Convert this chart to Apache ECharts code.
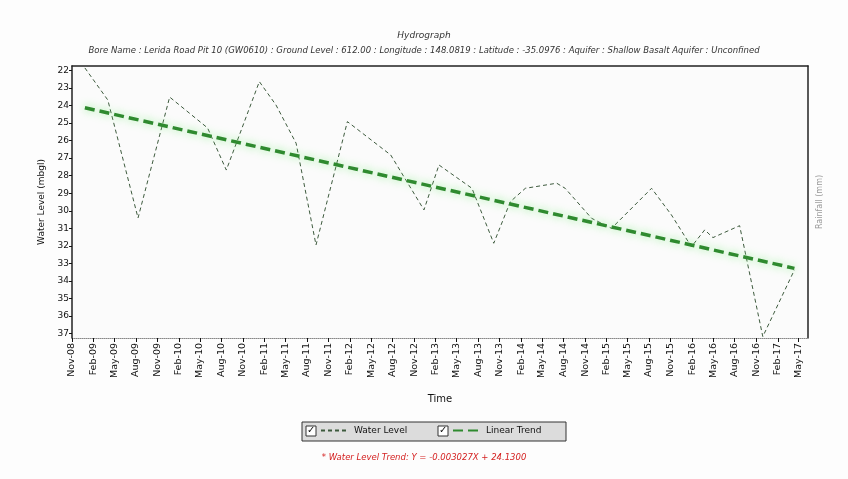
<!DOCTYPE html>
<html>
<head>
<meta charset="utf-8">
<script src="https://cdn.jsdelivr.net/npm/echarts@6/dist/echarts.min.js"></script>
<style>html,body{margin:0;padding:0;background:#fdfdfd;}#c{width:848px;height:479px;}</style>
</head>
<body>
<div id="c"></div>
<script>
// ---- data ----
const sampleDates = ['2008-12-26','2009-04-03','2009-08-10','2009-12-23','2010-06-03','2010-08-22','2011-01-10','2011-03-22','2011-06-16','2011-09-09','2012-01-21','2012-07-24','2012-12-13','2013-02-15','2013-07-06','2013-10-07','2013-12-17','2014-02-19','2014-07-03','2014-08-08','2014-11-29','2015-02-22','2015-08-12','2015-11-05','2016-01-29','2016-03-26','2016-04-30','2016-08-22','2016-11-29','2017-04-13'];
const waterLevel = [21.86,23.69,30.41,23.52,25.28,27.68,22.64,23.97,26.15,31.95,24.92,26.82,29.95,27.39,28.72,31.85,29.48,28.72,28.43,28.72,30.43,31.0,28.72,30.24,32.05,31.09,31.53,30.85,37.17,33.37];
const trendDates = ['2008-12-26','2017-04-13'];
const trendValues = [24.13,33.28];
const tickDates = ['2008-11-01','2009-02-01','2009-05-01','2009-08-01','2009-11-01','2010-02-01','2010-05-01','2010-08-01','2010-11-01','2011-02-01','2011-05-01','2011-08-01','2011-11-01','2012-02-01','2012-05-01','2012-08-01','2012-11-01','2013-02-01','2013-05-01','2013-08-01','2013-11-01','2014-02-01','2014-05-01','2014-08-01','2014-11-01','2015-02-01','2015-05-01','2015-08-01','2015-11-01','2016-02-01','2016-05-01','2016-08-01','2016-11-01','2017-02-01','2017-05-01'];
const yTicks = [22,23,24,25,26,27,28,29,30,31,32,33,34,35,36,37];
const seriesNames = ['Water Level','Linear Trend'];
const titleText = 'Hydrograph';
const subtitleText = 'Bore Name : Lerida Road Pit 10 (GW0610) : Ground Level : 612.00 : Longitude : 148.0819 : Latitude : -35.0976 : Aquifer : Shallow Basalt Aquifer : Unconfined';
const footText = '* Water Level Trend: Y = -0.003027X + 24.1300';

const months = ['Jan','Feb','Mar','Apr','May','Jun','Jul','Aug','Sep','Oct','Nov','Dec'];
const ts = s => { const p = s.split('-').map(Number); return Date.UTC(p[0], p[1]-1, p[2]); };
const fmt = v => { const d = new Date(v); return months[d.getUTCMonth()] + '-' + String(d.getUTCFullYear() % 100).padStart(2,'0'); };
const xMin = ts('2008-11-01'), xMax = ts('2017-06-10');
const tickTs = tickDates.map(ts);

const chart = echarts.init(document.getElementById('c'));
chart.setOption({
  backgroundColor: '#fdfdfd',
  animation: false,
  title: [
    {text: titleText, left: 'center', top: 26, textStyle: {fontSize: 9, fontStyle: 'italic', fontWeight: 'normal', color: '#333', fontFamily: 'DejaVu Sans'}},
    {text: subtitleText, left: 'center', top: 41, textStyle: {fontSize: 8.5, fontStyle: 'italic', fontWeight: 'normal', color: '#333', fontFamily: 'DejaVu Sans'}}
  ],
  grid: {left: 72, top: 66, width: 736, height: 272, show: true, backgroundColor: '#fbfbfb', borderWidth: 0},
  xAxis: [
    {type: 'value', min: xMin, max: xMax, name: 'Time', nameLocation: 'middle', nameGap: 56,
     nameTextStyle: {fontSize: 10, color: '#111', fontFamily: 'DejaVu Sans'},
     axisLine: {show: true, lineStyle: {color: '#888', width: 1, type: 'dotted'}},
     axisTick: {show: true, length: 4, customValues: tickTs, lineStyle: {color: '#111'}},
     axisLabel: {customValues: tickTs, rotate: 90, fontSize: 9.5, color: '#111', margin: 5, formatter: fmt, fontFamily: 'DejaVu Sans'},
     splitLine: {show: false}},
    {type: 'value', position: 'top', min: xMin, max: xMax,
     axisLine: {show: true, lineStyle: {color: '#222', width: 1.5}},
     axisTick: {show: false}, axisLabel: {show: false}, splitLine: {show: false}}
  ],
  yAxis: [
    {type: 'value', inverse: true, min: 21.75, max: 37.25, name: 'Water Level (mbgl)', nameLocation: 'middle', nameGap: 22,
     nameTextStyle: {fontSize: 9, color: '#111', fontFamily: 'DejaVu Sans'},
     axisLine: {show: true, lineStyle: {color: '#222', width: 1.5}},
     axisTick: {show: true, length: 3, customValues: yTicks, lineStyle: {color: '#111'}},
     axisLabel: {customValues: yTicks, fontSize: 9, color: '#111', margin: 3, fontFamily: 'DejaVu Sans'},
     splitLine: {show: false}},
    {type: 'value', position: 'right', min: 0, max: 1, name: 'Rainfall (mm)', nameLocation: 'middle', nameGap: 8,
     nameTextStyle: {fontSize: 8, color: '#999', fontFamily: 'DejaVu Sans'},
     axisLine: {show: true, lineStyle: {color: '#222', width: 1.5}},
     axisTick: {show: false}, axisLabel: {show: false}, splitLine: {show: false}}
  ],
  legend: [
    {data: [seriesNames[0]], left: 320, top: 426, itemWidth: 28, itemHeight: 10, padding: 0, itemStyle: {opacity: 0},
     textStyle: {fontSize: 9, color: '#111', fontFamily: 'DejaVu Sans'}},
    {data: [seriesNames[1]], left: 452, top: 426, itemWidth: 28, itemHeight: 10, padding: 0, itemStyle: {opacity: 0},
     textStyle: {fontSize: 9, color: '#111', fontFamily: 'DejaVu Sans'}}
  ],
  graphic: [
    {type: 'rect', z: -1, shape: {x: 302, y: 422, width: 264, height: 19},
     style: {fill: '#dcdcdc', stroke: '#333', lineWidth: 1}},
    {type: 'rect', shape: {x: 306, y: 426, width: 10, height: 10}, style: {fill: '#fff', stroke: '#333', lineWidth: 1}},
    {type: 'text', x: 307, y: 425, style: {text: '✓', fontSize: 10, fill: '#111', fontFamily: 'DejaVu Sans'}},
    {type: 'rect', shape: {x: 438, y: 426, width: 10, height: 10}, style: {fill: '#fff', stroke: '#333', lineWidth: 1}},
    {type: 'text', x: 439, y: 425, style: {text: '✓', fontSize: 10, fill: '#111', fontFamily: 'DejaVu Sans'}},
    {type: 'text', left: 'center', top: 453, style: {text: footText, fontSize: 8.5, fontStyle: 'italic', fill: '#d42020', fontFamily: 'DejaVu Sans'}}
  ],
  series: [
    {name: seriesNames[0], type: 'line', xAxisIndex: 0, yAxisIndex: 0, symbol: 'none',
     data: sampleDates.map((d, i) => [ts(d), waterLevel[i]]),
     lineStyle: {color: '#3d5a3d', width: 1, type: [4, 3]}, itemStyle: {color: '#3d5a3d'}},
    {name: seriesNames[1], type: 'line', xAxisIndex: 0, yAxisIndex: 0, symbol: 'none',
     data: trendDates.map((d, i) => [ts(d), trendValues[i]]),
     lineStyle: {color: '#2f8a2f', width: 3.5, type: [10, 5], shadowColor: 'rgba(120,240,120,0.8)', shadowBlur: 8},
     itemStyle: {color: '#2f8a2f'}}
  ]
});
</script>
</body>
</html>
